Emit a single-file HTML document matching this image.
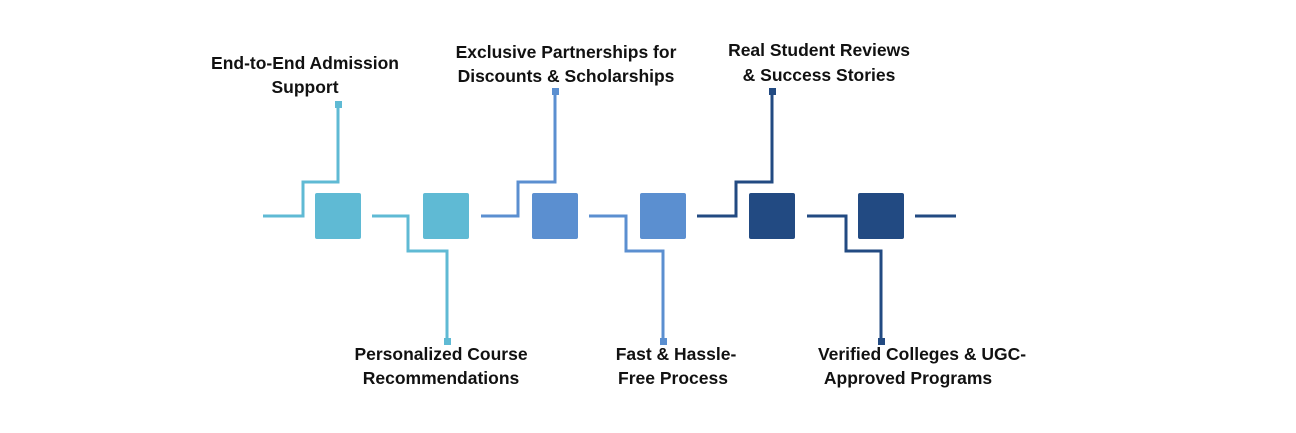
<!DOCTYPE html>
<html><head><style>
body{margin:0;width:1296px;height:433px;background:#fff;overflow:hidden}
</style></head><body>
<svg width="1296" height="433" xmlns="http://www.w3.org/2000/svg" style="position:absolute;left:0;top:0">
<g fill="none" stroke-width="3">
<path d="M263 216H303V182H338V105" stroke="#5fbad4"/>
<path d="M372 216H408V251H447V341" stroke="#5fbad4"/>
<path d="M481 216H518V182H555V91" stroke="#5b8fd0"/>
<path d="M589 216H626V251H663V341" stroke="#5b8fd0"/>
<path d="M697 216H736V182H772V91" stroke="#224a82"/>
<path d="M807 216H846V251H881V341" stroke="#224a82"/>
<path d="M915 216H956" stroke="#224a82"/>
</g>
<rect x="335" y="101" width="7" height="7" fill="#5fbad4"/>
<rect x="444" y="338" width="7" height="7" fill="#5fbad4"/>
<rect x="552" y="88" width="7" height="7" fill="#5b8fd0"/>
<rect x="660" y="338" width="7" height="7" fill="#5b8fd0"/>
<rect x="769" y="88" width="7" height="7" fill="#224a82"/>
<rect x="878" y="338" width="7" height="7" fill="#224a82"/>
<rect x="315" y="193" width="46" height="46" rx="2" fill="#5fbad4"/>
<rect x="423" y="193" width="46" height="46" rx="2" fill="#5fbad4"/>
<rect x="532" y="193" width="46" height="46" rx="2" fill="#5b8fd0"/>
<rect x="640" y="193" width="46" height="46" rx="2" fill="#5b8fd0"/>
<rect x="749" y="193" width="46" height="46" rx="2" fill="#224a82"/>
<rect x="858" y="193" width="46" height="46" rx="2" fill="#224a82"/>
<g font-family="Liberation Sans, sans-serif" font-weight="bold" font-size="17.5" fill="#111" text-anchor="middle">
<text x="305" y="69">End-to-End Admission</text>
<text x="305" y="93">Support</text>
<text x="566" y="58">Exclusive Partnerships for</text>
<text x="566" y="82">Discounts &amp; Scholarships</text>
<text x="819" y="56">Real Student Reviews</text>
<text x="819" y="81">&amp; Success Stories</text>
<text x="441" y="360">Personalized Course</text>
<text x="441" y="384">Recommendations</text>
<text x="676" y="360">Fast &amp; Hassle-</text>
<text x="673" y="384">Free Process</text>
<text x="922" y="360">Verified Colleges &amp; UGC-</text>
<text x="908" y="384">Approved Programs</text>
</g>
</svg>
</body></html>
